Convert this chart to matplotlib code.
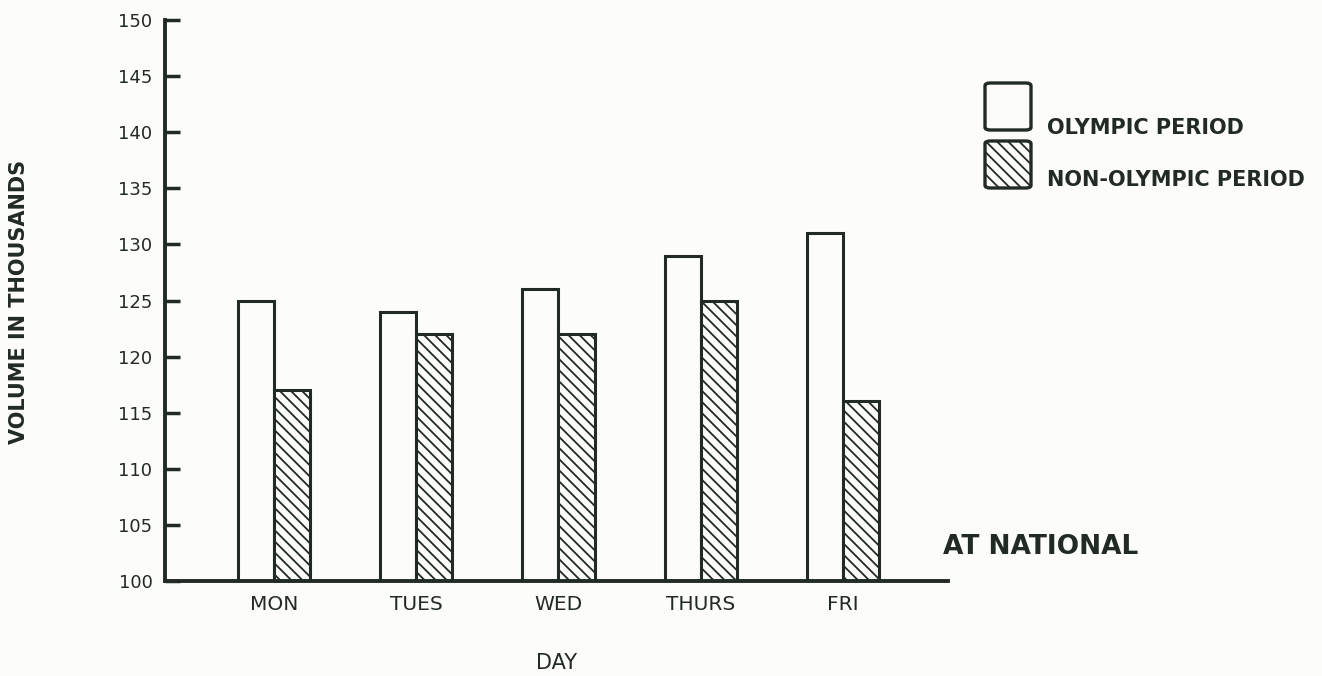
import matplotlib
matplotlib.use("Agg")
import matplotlib.pyplot as plt
import numpy as np
from matplotlib.patches import FancyBboxPatch

# Weekday traffic volume (thousands)
days = ["MON", "TUES", "WED", "THURS", "FRI"]
olympic = [125, 124, 126, 129, 131]
non_olympic = [117, 122, 122, 125, 116]
y_ticks = [100, 105, 110, 115, 120, 125, 130, 135, 140, 145, 150]

INK = "#222a25"
PAPER = "#fcfcf8"

plt.rcParams["font.family"] = ["DejaVu Sans"]
plt.rcParams["hatch.linewidth"] = 1.3
plt.rcParams["hatch.color"] = INK

fig = plt.figure(figsize=(13.22, 6.76), dpi=100, facecolor=PAPER)
ax = fig.add_axes([0.1248, 0.1405, 0.5923, 0.8299])
ax.set_facecolor(PAPER)

x = np.arange(len(days))
w = 0.254
ax.bar(x - w / 2, [v - 100 for v in olympic], width=w, bottom=100,
       facecolor=PAPER, edgecolor=INK, linewidth=2.2)
ax.bar(x + w / 2, [v - 100 for v in non_olympic], width=w, bottom=100,
       facecolor=PAPER, edgecolor=INK, linewidth=2.2, hatch="\\\\\\")

ax.set_ylim(100, 150)
ax.set_xlim(-0.766, 4.738)
ax.set_yticks(y_ticks)
ax.set_yticklabels([str(t) for t in y_ticks], fontsize=13, color=INK)
ax.set_xticks(x)
ax.set_xticklabels(days, fontsize=14.5, color=INK)

for s in ("top", "right"):
    ax.spines[s].set_visible(False)
for s in ("left", "bottom"):
    ax.spines[s].set_linewidth(2.8)
    ax.spines[s].set_color(INK)

ax.tick_params(axis="y", direction="in", length=11, width=2.5, color=INK, pad=9)
ax.tick_params(axis="x", length=0, pad=10)

ax.set_xlabel("DAY", fontsize=15, color=INK, labelpad=28)
ax.set_ylabel("VOLUME IN THOUSANDS", fontsize=15, fontweight="bold",
              color=INK, va="center")
ax.yaxis.set_label_coords(-0.187, 0.497)

# Legend keys drawn as rounded squares with labels beside them
W, H = 1322.0, 676.0

def key(x0, y0, x1, y1, hatch=None):
    p = FancyBboxPatch((x0 / W, 1 - y1 / H), (x1 - x0) / W, (y1 - y0) / H,
                       boxstyle="round,pad=0,rounding_size=0.004",
                       transform=fig.transFigure, facecolor=PAPER,
                       edgecolor=INK, linewidth=2.4, hatch=hatch)
    fig.patches.append(p)

key(985, 83, 1031, 130)
key(985, 141, 1031, 188, hatch="\\\\\\")
fig.text(1047 / W, 1 - 128 / H, "OLYMPIC PERIOD", fontsize=15,
         fontweight="bold", color=INK, va="center", ha="left")
fig.text(1047 / W, 1 - 180 / H, "NON-OLYMPIC PERIOD", fontsize=15,
         fontweight="bold", color=INK, va="center", ha="left")

fig.text(943 / W, 1 - 547 / H, "AT NATIONAL", fontsize=19,
         fontweight="bold", color=INK, va="center", ha="left")

fig.savefig("out.png", dpi=100, facecolor=PAPER)
